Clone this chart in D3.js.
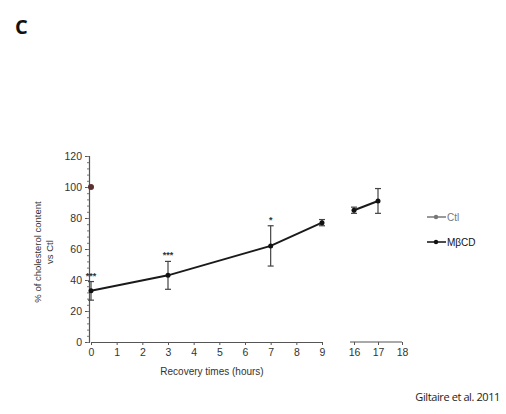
<!DOCTYPE html>
<html><head><meta charset="utf-8">
<script src="https://cdn.jsdelivr.net/npm/d3@7"></script>
<style>body{margin:0;background:#fff;}svg{display:block;font-family:"Liberation Sans",Arial,sans-serif;}</style>
</head><body>
<svg id="c" width="506" height="414"></svg>
<script>
const yTicks = [0,20,40,60,80,100,120];
const xTicksA = [0,1,2,3,4,5,6,7,8,9];
const xTicksB = [16,17,18];
const ctlTimes = [0];
const ctlValues = [100];
const mbTimesA = [0,3,7,9];
const mbValuesA = [33,43,62,77];
const mbErrA = [6,9,13,2];
const mbTimesB = [16,17];
const mbValuesB = [85,91];
const mbErrB = [2,8];
const sigTimes = [0,3,7];
const sigLabels = ["***","***","*"];

const svg = d3.select("#c");
const y = d3.scaleLinear().domain([0,120]).range([342,156]);
const xA = d3.scaleLinear().domain([0,9]).range([91,322]);
const xB = d3.scaleLinear().domain([16,18]).range([354,402]);

svg.append("text").attr("x",15).attr("y",34).attr("font-size",20).attr("font-weight","bold").attr("font-family","'Open Sans',sans-serif").attr("fill","#111").text("C");

// Y axis
const ya = svg.append("g").attr("transform","translate(89,0)")
  .call(d3.axisLeft(y).tickValues(yTicks).tickSize(4).tickPadding(3));
ya.select(".domain").attr("stroke","#555").attr("stroke-width",1.2);
ya.selectAll("line").attr("stroke","#555");
ya.selectAll("text").attr("font-size",10.5).attr("fill","#333");
svg.append("g").attr("transform","translate(89,0)")
  .call(d3.axisLeft(y).tickValues(d3.range(0,121,4)).tickSize(2).tickFormat(""))
  .call(g=>g.select(".domain").remove()).selectAll("line").attr("stroke","#777");

// X axes
[[xA,xTicksA],[xB,xTicksB]].forEach(([sc,tv],i)=>{
  const g = svg.append("g").attr("transform","translate(0,342)")
    .call(d3.axisBottom(sc).tickValues(tv).tickFormat(d3.format("d")).tickSize(3).tickPadding(4).tickSizeOuter(0));
  g.select(".domain").attr("stroke","#555").attr("stroke-width",1.2);
  if(i===1) g.select(".domain").attr("d","M350,0H402");
  g.selectAll("line").attr("stroke","#555");
  g.selectAll("text").attr("font-size",10.5).attr("fill","#333");
});

// Axis titles
svg.append("text").attr("transform","translate(41,252) rotate(-90)").attr("text-anchor","middle")
  .attr("font-size",9.5).attr("fill","#333").text("% of cholesterol content");
svg.append("text").attr("transform","translate(53,252) rotate(-90)").attr("text-anchor","middle")
  .attr("font-size",9.5).attr("fill","#333").text("vs Ctl");
svg.append("text").attr("x",212).attr("y",375).attr("text-anchor","middle")
  .attr("font-size",10).attr("fill","#333").text("Recovery times (hours)");

// Error bars
function errs(sc,ts,vs,es){
  ts.forEach((t,i)=>{
    const x=sc(t), y0=y(vs[i]-es[i]), y1=y(vs[i]+es[i]);
    svg.append("line").attr("x1",x).attr("x2",x).attr("y1",y0).attr("y2",y1).attr("stroke","#444").attr("stroke-width",1.2);
    [y0,y1].forEach(yy=>svg.append("line").attr("x1",x-3).attr("x2",x+3).attr("y1",yy).attr("y2",yy).attr("stroke","#444").attr("stroke-width",1.2));
  });
}
errs(xA,mbTimesA,mbValuesA,mbErrA);
errs(xB,mbTimesB,mbValuesB,mbErrB);

const line = sc => d3.line().x(d=>sc(d[0])).y(d=>y(d[1]));
svg.append("path").datum(mbTimesA.map((t,i)=>[t,mbValuesA[i]])).attr("d",line(xA))
  .attr("fill","none").attr("stroke","#1a1a1a").attr("stroke-width",2);
svg.append("path").datum(mbTimesB.map((t,i)=>[t,mbValuesB[i]])).attr("d",line(xB))
  .attr("fill","none").attr("stroke","#1a1a1a").attr("stroke-width",2);

mbTimesA.forEach((t,i)=>svg.append("circle").attr("cx",xA(t)).attr("cy",y(mbValuesA[i])).attr("r",2.5).attr("fill","#111"));
mbTimesB.forEach((t,i)=>svg.append("circle").attr("cx",xB(t)).attr("cy",y(mbValuesB[i])).attr("r",2.5).attr("fill","#111"));
ctlTimes.forEach((t,i)=>svg.append("circle").attr("cx",xA(t)).attr("cy",y(ctlValues[i])).attr("r",3).attr("fill","#5a3030"));

// significance
sigTimes.forEach((t,i)=>{
  const idx = mbTimesA.indexOf(t);
  svg.append("text").attr("x",xA(t)).attr("y",y(mbValuesA[idx]+mbErrA[idx])-3).attr("text-anchor","middle")
    .attr("font-size",9).attr("font-weight","bold").attr("fill","#333").text(sigLabels[i]);
});

// legend
const lg=[{n:"Ctl",c:"#777",y:217},{n:"MβCD",c:"#111",y:242}];
lg.forEach(d=>{
  svg.append("line").attr("x1",427).attr("x2",446).attr("y1",d.y).attr("y2",d.y).attr("stroke",d.c).attr("stroke-width",1.5);
  svg.append("circle").attr("cx",436).attr("cy",d.y).attr("r",2.2).attr("fill",d.c);
  svg.append("text").attr("x",447).attr("y",d.y+3.5).attr("font-size",10).attr("fill",d.c).text(d.n);
});

svg.append("text").attr("x",500).attr("y",401).attr("text-anchor","end").attr("font-size",11)
  .attr("font-family","'Open Sans',sans-serif").attr("fill","#222").attr("letter-spacing",-0.4).text("Giltaire et al. 2011");
</script>
</body></html>
